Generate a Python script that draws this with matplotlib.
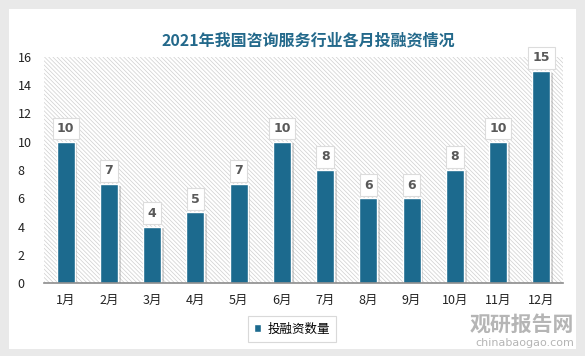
import matplotlib
matplotlib.use("Agg")
import matplotlib.pyplot as plt
import matplotlib.patheffects as pe
from matplotlib.patches import Rectangle

plt.rcParams['font.family'] = ['Noto Sans CJK SC', 'DejaVu Sans']
plt.rcParams['hatch.color'] = "#cfcfcf"
plt.rcParams['hatch.linewidth'] = 0.5

# 数据
meses = ["1月", "2月", "3月", "4月", "5月", "6月", "7月", "8月", "9月", "10月", "11月", "12月"]
quantidade = [10, 7, 4, 5, 7, 10, 8, 6, 6, 8, 10, 15]
titulo = "2021年我国咨询服务行业各月投融资情况"
serie = "投融资数量"

cor_barra = "#1c6a8e"
cor_titulo = "#23698b"

fig = plt.figure(figsize=(5.85, 3.56), dpi=100)
fig.patch.set_facecolor("#e9e9e9")
# cartão branco
fig.patches.append(Rectangle((9 / 585, 1 - 349 / 356), 567 / 585, 340 / 356,
                             transform=fig.transFigure, facecolor="white",
                             edgecolor="none", zorder=-5))

ax = fig.add_axes([44 / 585, 1 - 283 / 356, 519 / 585, 226 / 356])
ax.set_facecolor("none")

x = list(range(len(meses)))
ax.set_xlim(-0.5, len(meses) - 0.5)
ax.set_ylim(0, 16)

# fundo tracejado
ax.add_patch(Rectangle((-0.5, 0), len(meses), 16, facecolor="white",
                       edgecolor="#cfcfcf", hatch="\\" * 8, linewidth=0, zorder=0))

barras = ax.bar(x, quantidade, width=0.42, color=cor_barra, edgecolor="white",
                linewidth=1, zorder=2)
for b in barras:
    b.set_path_effects([pe.SimplePatchShadow(offset=(2, -1), shadow_rgbFace="#888888", alpha=0.35),
                        pe.Normal()])

for xi, v in zip(x, quantidade):
    ax.annotate(str(v), (xi, v), xytext=(0, 9.5), textcoords="offset points",
                ha="center", va="center", fontsize=9, fontweight="bold", color="#595959",
                family="DejaVu Sans",
                bbox=dict(boxstyle="square,pad=0.35", fc="white", ec="#dcdcdc", lw=0.8),
                zorder=3)

ax.set_xticks(x)
ax.set_xticklabels(meses, fontsize=9, color="#222222")
ax.set_yticks(range(0, 17, 2))
ax.tick_params(axis="y", labelsize=9, labelcolor="#222222", length=0, pad=19)
ax.tick_params(axis="x", length=0, pad=8)
for lbl in ax.get_yticklabels():
    lbl.set_horizontalalignment("left")
for s in ["top", "right", "left"]:
    ax.spines[s].set_visible(False)
ax.spines["bottom"].set_color("#8c8c8c")
ax.spines["bottom"].set_linewidth(1.2)
ax.spines["bottom"].set_zorder(4)

fig.text(308 / 585, 1 - 40 / 356, titulo, ha="center", va="center",
         fontsize=11.5, fontweight="bold", color=cor_titulo)

leg = fig.legend([barras[0]], [serie], loc="center", bbox_to_anchor=(292 / 585, 1 - 329 / 356),
                 frameon=True, fontsize=9, handlelength=0.6, handleheight=0.6,
                 fancybox=False, borderpad=0.5, handletextpad=0.5)
leg.get_frame().set_edgecolor("#d0d0d0")
leg.get_frame().set_linewidth(0.8)
leg.legend_handles[0].set_path_effects([])

# marca d'água
fig.text(522 / 585, 1 - 324 / 356, "观研报告网", ha="center", va="center",
         fontsize=15, fontweight="bold", color="#b5b5b5")
fig.text(525 / 585, 1 - 343 / 356, "chinabaogao.com", ha="center", va="center",
         fontsize=8, color="#b5b5b5", family="DejaVu Sans")

fig.savefig("out.png", dpi=100, facecolor=fig.get_facecolor())
